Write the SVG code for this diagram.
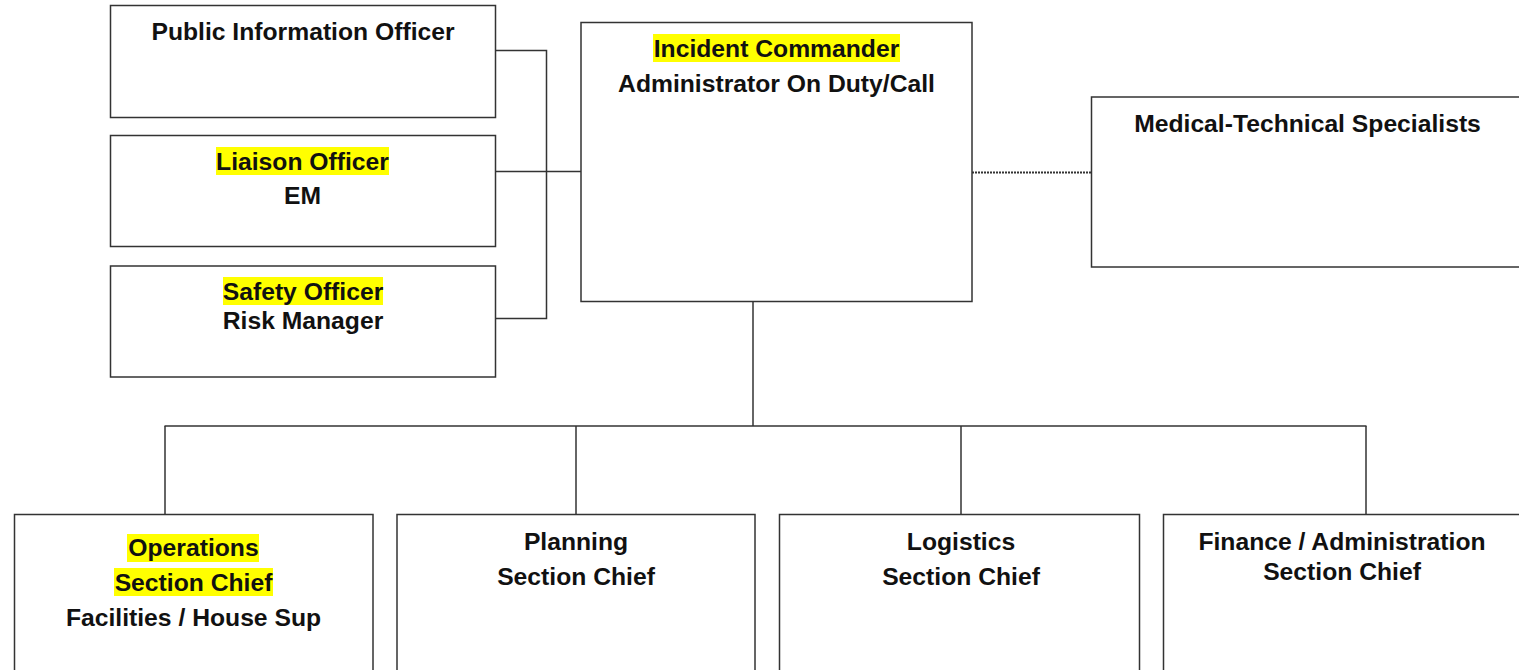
<svg xmlns="http://www.w3.org/2000/svg" width="1519" height="670" viewBox="0 0 1519 670">
<style>
.box{fill:#fff;stroke:#333;stroke-width:1.5}
.ln{fill:none;stroke:#333;stroke-width:1.5}
.dot{fill:none;stroke:#333;stroke-width:2;stroke-dasharray:2 1}
.hl{fill:#ffff00}
text{font-family:"Liberation Sans",Arial,sans-serif;font-weight:bold;font-size:24.7px;fill:#111;text-anchor:middle}
</style>
<rect width="1519" height="670" fill="#fff"/>
<g id="connectors">
<polyline class="ln" points="495,50.5 546.5,50.5 546.5,318.5 495,318.5"/>
<line class="ln" x1="495" y1="171.5" x2="581" y2="171.5"/>
<line class="dot" x1="972" y1="172.5" x2="1091" y2="172.5"/>
<line class="ln" x1="753" y1="302" x2="753" y2="426"/>
<line class="ln" x1="164.5" y1="426" x2="1366.5" y2="426"/>
<line class="ln" x1="165" y1="426" x2="165" y2="514"/>
<line class="ln" x1="576" y1="426" x2="576" y2="514"/>
<line class="ln" x1="961" y1="426" x2="961" y2="514"/>
<line class="ln" x1="1366" y1="426" x2="1366" y2="514"/>
</g>
<g id="pio">
<rect class="box" x="110.5" y="5.5" width="385" height="112"/>
<text x="303" y="40">Public Information Officer</text>
</g>
<g id="liaison">
<rect class="box" x="110.5" y="135.5" width="385" height="111"/>
<rect class="hl" x="216" y="147" width="173" height="28"/>
<text x="302.5" y="170">Liaison Officer</text>
<text x="302.5" y="204">EM</text>
</g>
<g id="safety">
<rect class="box" x="110.5" y="266" width="385" height="111"/>
<rect class="hl" x="223" y="277" width="160" height="28"/>
<text x="303" y="300">Safety Officer</text>
<text x="303" y="329">Risk Manager</text>
</g>
<g id="ic">
<rect class="box" x="581" y="22.5" width="391" height="279"/>
<rect class="hl" x="653" y="34" width="247" height="28"/>
<text x="776.5" y="57">Incident Commander</text>
<text x="776.5" y="92">Administrator On Duty/Call</text>
</g>
<g id="medical">
<rect class="box" x="1091.5" y="97" width="440" height="170"/>
<text x="1307.5" y="132">Medical-Technical Specialists</text>
</g>
<g id="operations">
<rect class="box" x="14.5" y="514.5" width="358.5" height="200"/>
<rect class="hl" x="127" y="534" width="132" height="28"/>
<rect class="hl" x="114" y="568" width="159" height="28"/>
<text x="193.5" y="556">Operations</text>
<text x="193.5" y="591">Section Chief</text>
<text x="193.5" y="626">Facilities / House Sup</text>
</g>
<g id="planning">
<rect class="box" x="397" y="514.5" width="358" height="200"/>
<text x="576" y="550">Planning</text>
<text x="576" y="585">Section Chief</text>
</g>
<g id="logistics">
<rect class="box" x="779.5" y="514.5" width="360" height="200"/>
<text x="961" y="550">Logistics</text>
<text x="961" y="585">Section Chief</text>
</g>
<g id="finance">
<rect class="box" x="1163.5" y="514.5" width="400" height="200"/>
<text x="1342" y="550">Finance / Administration</text>
<text x="1342" y="580">Section Chief</text>
</g>
</svg>
